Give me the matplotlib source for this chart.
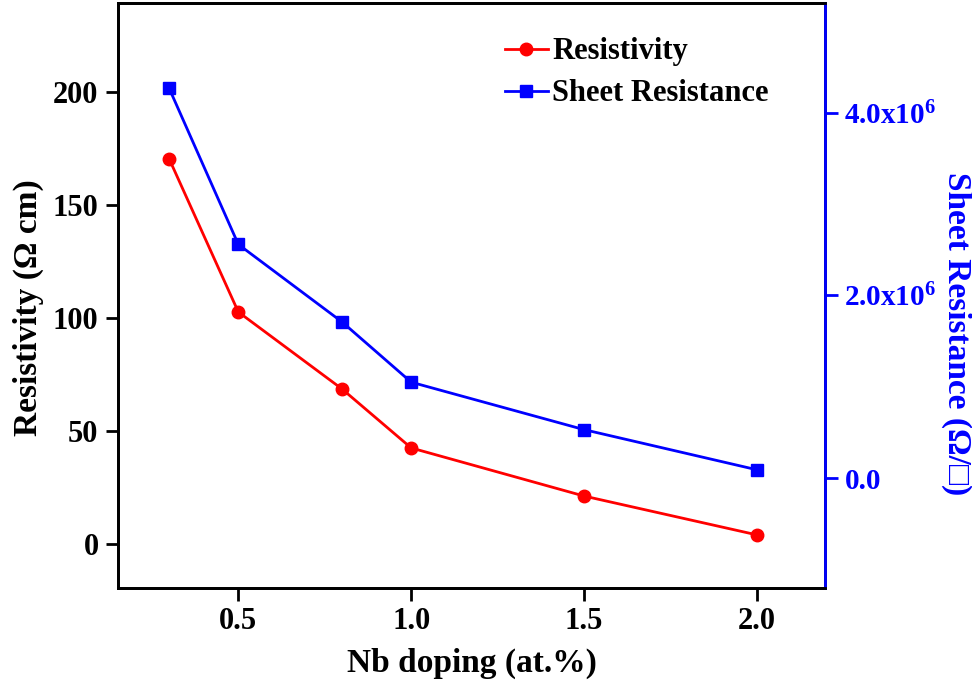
import matplotlib
matplotlib.use("Agg")
import matplotlib.pyplot as plt

# data
nb_doping = [0.3, 0.5, 0.8, 1.0, 1.5, 2.0]
resistivity = [170.5, 102.7, 68.6, 42.5, 21.2, 4.0]
sheet_res = [4.27e6, 2.56e6, 1.71e6, 1.05e6, 0.53e6, 0.09e6]

x_ticks = [0.5, 1.0, 1.5, 2.0]
left_ticks = [0, 50, 100, 150, 200]
right_ticks = [0.0, 2.0e6, 4.0e6]
right_labels = ["0.0", r"2.0x10$^{6}$", r"4.0x10$^{6}$"]

plt.rcParams["font.family"] = ["Liberation Serif", "DejaVu Serif"]
plt.rcParams["font.weight"] = "bold"
plt.rcParams["mathtext.fontset"] = "custom"
plt.rcParams["mathtext.rm"] = "Liberation Serif:bold"
plt.rcParams["mathtext.bf"] = "Liberation Serif:bold"
plt.rcParams["mathtext.default"] = "bf"

fig = plt.figure(figsize=(9.72, 6.84), dpi=100)
ax = fig.add_axes([0.1214, 0.1404, 0.7274, 0.8552])
ax2 = ax.twinx()

l1, = ax.plot(nb_doping, resistivity, color="red", marker="o", markersize=9,
              linewidth=2, label="Resistivity")
l2, = ax2.plot(nb_doping, sheet_res, color="blue", marker="s", markersize=8,
               linewidth=2, label="Sheet Resistance")

ax.set_xlim(0.152, 2.197)
ax.set_ylim(-19.5, 239.5)
ax2.set_ylim(-1.205e6, 5.205e6)

ax.set_xticks(x_ticks)
ax.set_xticklabels(["%.1f" % v for v in x_ticks])
ax.set_yticks(left_ticks)
ax2.set_yticks(right_ticks)
ax2.set_yticklabels(right_labels)

for a in (ax, ax2):
    for s in a.spines.values():
        s.set_linewidth(2)
ax2.spines["right"].set_color("blue")
ax2.spines["left"].set_color("black")

ax.tick_params(axis="both", direction="out", length=9, width=2, labelsize=22, pad=5)
ax2.tick_params(axis="y", direction="out", length=9, width=2, labelsize=21,
                colors="blue", pad=5)

ax.set_xlabel("Nb doping (at.%)", fontsize=24, fontweight="bold", labelpad=8)
ax.set_ylabel("Resistivity (Ω cm)", fontsize=24, fontweight="bold", va="center")
ax.yaxis.set_label_coords(-0.127, 0.48)
ax2.set_ylabel("Sheet Resistance (Ω/□)", fontsize=24, fontweight="bold",
               color="blue", rotation=270, va="center")
ax2.yaxis.set_label_coords(1.186, 0.435)

ax.legend(handles=[l1, l2], loc="upper left", bbox_to_anchor=(0.53, 0.962),
          frameon=False, fontsize=22, handlelength=1.4, handletextpad=0.15,
          labelspacing=0.42, borderaxespad=0)

fig.savefig("out.png", dpi=100)
